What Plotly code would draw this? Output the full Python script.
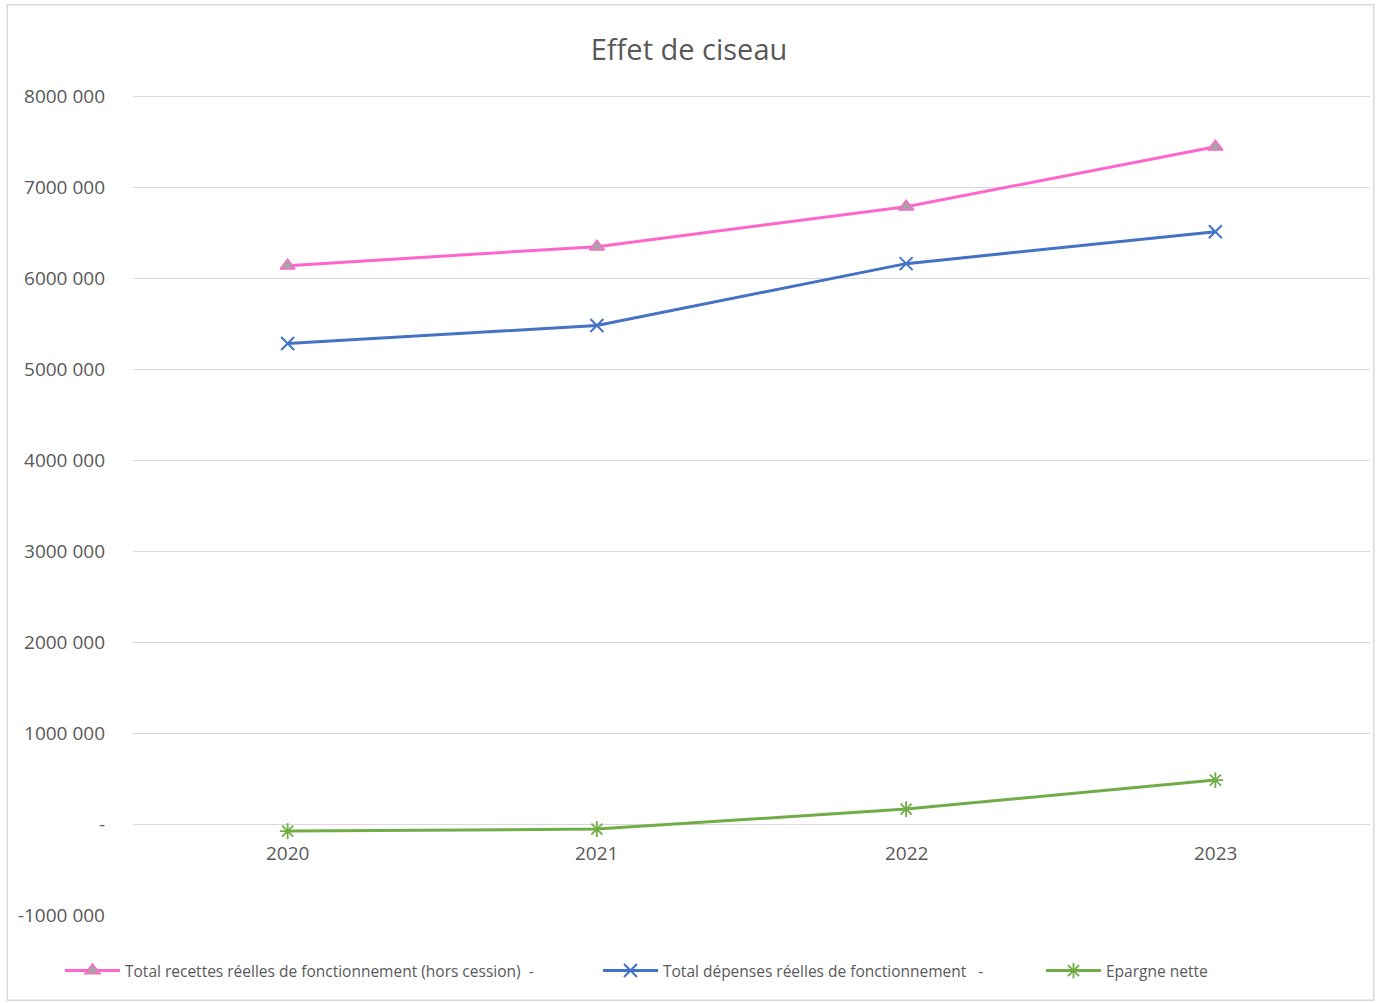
import plotly.graph_objects as go

years = ["2020", "2021", "2022", "2023"]
recettes = [6143000, 6352000, 6791000, 7451000]
depenses = [5286000, 5484000, 6165000, 6516000]
epargne = [-77000, -55000, 165000, 484000]

names = ["Total recettes réelles de fonctionnement (hors cession)  -",
         "Total dépenses réelles de fonctionnement   -",
         "Epargne nette"]

tick_vals = [-1000000, 0, 1000000, 2000000, 3000000, 4000000, 5000000, 6000000, 7000000, 8000000]
tick_text = ["-1000 000", "-", "1000 000", "2000 000", "3000 000", "4000 000",
             "5000 000", "6000 000", "7000 000", "8000 000"]

fig = go.Figure()
fig.add_trace(go.Scatter(x=years, y=recettes, name=names[0], mode="lines+markers",
                         line=dict(color="#FF66CC", width=3), legend="legend",
                         marker=dict(symbol="triangle-up", size=13, color="#A5A5A5",
                                     line=dict(color="#FF66CC", width=1.5))))
fig.add_trace(go.Scatter(x=years, y=depenses, name=names[1], mode="lines+markers",
                         line=dict(color="#4472C4", width=3), legend="legend2",
                         marker=dict(symbol="x-thin", size=13,
                                     line=dict(color="#4472C4", width=2))))
fig.add_trace(go.Scatter(x=years, y=epargne, name=names[2], mode="lines+markers",
                         line=dict(color="#70AD47", width=3), legend="legend3",
                         marker=dict(symbol="asterisk", size=13,
                                     line=dict(color="#70AD47", width=1.8))))

for i, yr in enumerate(years):
    fig.add_annotation(x=i, y=0, xref="x", yref="y", text=yr, showarrow=False,
                       yshift=-29, font=dict(family="Open Sans, Arial", size=19, color="#595959"))

fig.add_shape(type="rect", xref="paper", yref="paper",
              x0=-0.1017, x1=1.003, y0=-0.104, y1=1.11,
              line=dict(color="#D9D9D9", width=1.5), fillcolor="rgba(0,0,0,0)", layer="below")

legfont = dict(family="Open Sans, Arial", size=15.5, color="#595959")
legy = (1003 - 971) / 1003

fig.update_layout(
    width=1379, height=1003,
    paper_bgcolor="white", plot_bgcolor="white",
    margin=dict(l=133, r=9, t=95, b=88),
    title=dict(text="Effet de ciseau", x=689 / 1379, xref="container", xanchor="center",
               y=1 - 50 / 1003, yanchor="middle",
               font=dict(family="Open Sans, Arial", size=29, color="#595959")),
    font=dict(family="Open Sans, Arial", color="#595959"),
    xaxis=dict(type="category", range=[-0.5, 3.5], showticklabels=False,
               showgrid=False, zeroline=False, showline=False, ticks=""),
    yaxis=dict(range=[-1000000, 8020000], tickvals=tick_vals, ticktext=tick_text,
               showgrid=True, gridcolor="#D9D9D9", gridwidth=1,
               zeroline=True, zerolinecolor="#D9D9D9", zerolinewidth=1.2,
               showline=False, ticks="", ticklabelstandoff=27,
               tickfont=dict(family="Open Sans, Arial", size=19, color="#595959")),
    legend=dict(orientation="h", x=60 / 1379, xanchor="left", xref="container",
                y=legy, yref="container", yanchor="middle", font=legfont, itemwidth=55),
    legend2=dict(orientation="h", x=598 / 1379, xanchor="left", xref="container",
                 y=legy, yref="container", yanchor="middle", font=legfont, itemwidth=55),
    legend3=dict(orientation="h", x=1041 / 1379, xanchor="left", xref="container",
                 y=legy, yref="container", yanchor="middle", font=legfont, itemwidth=55),
    showlegend=True,
)

fig.write_html("out.html")
